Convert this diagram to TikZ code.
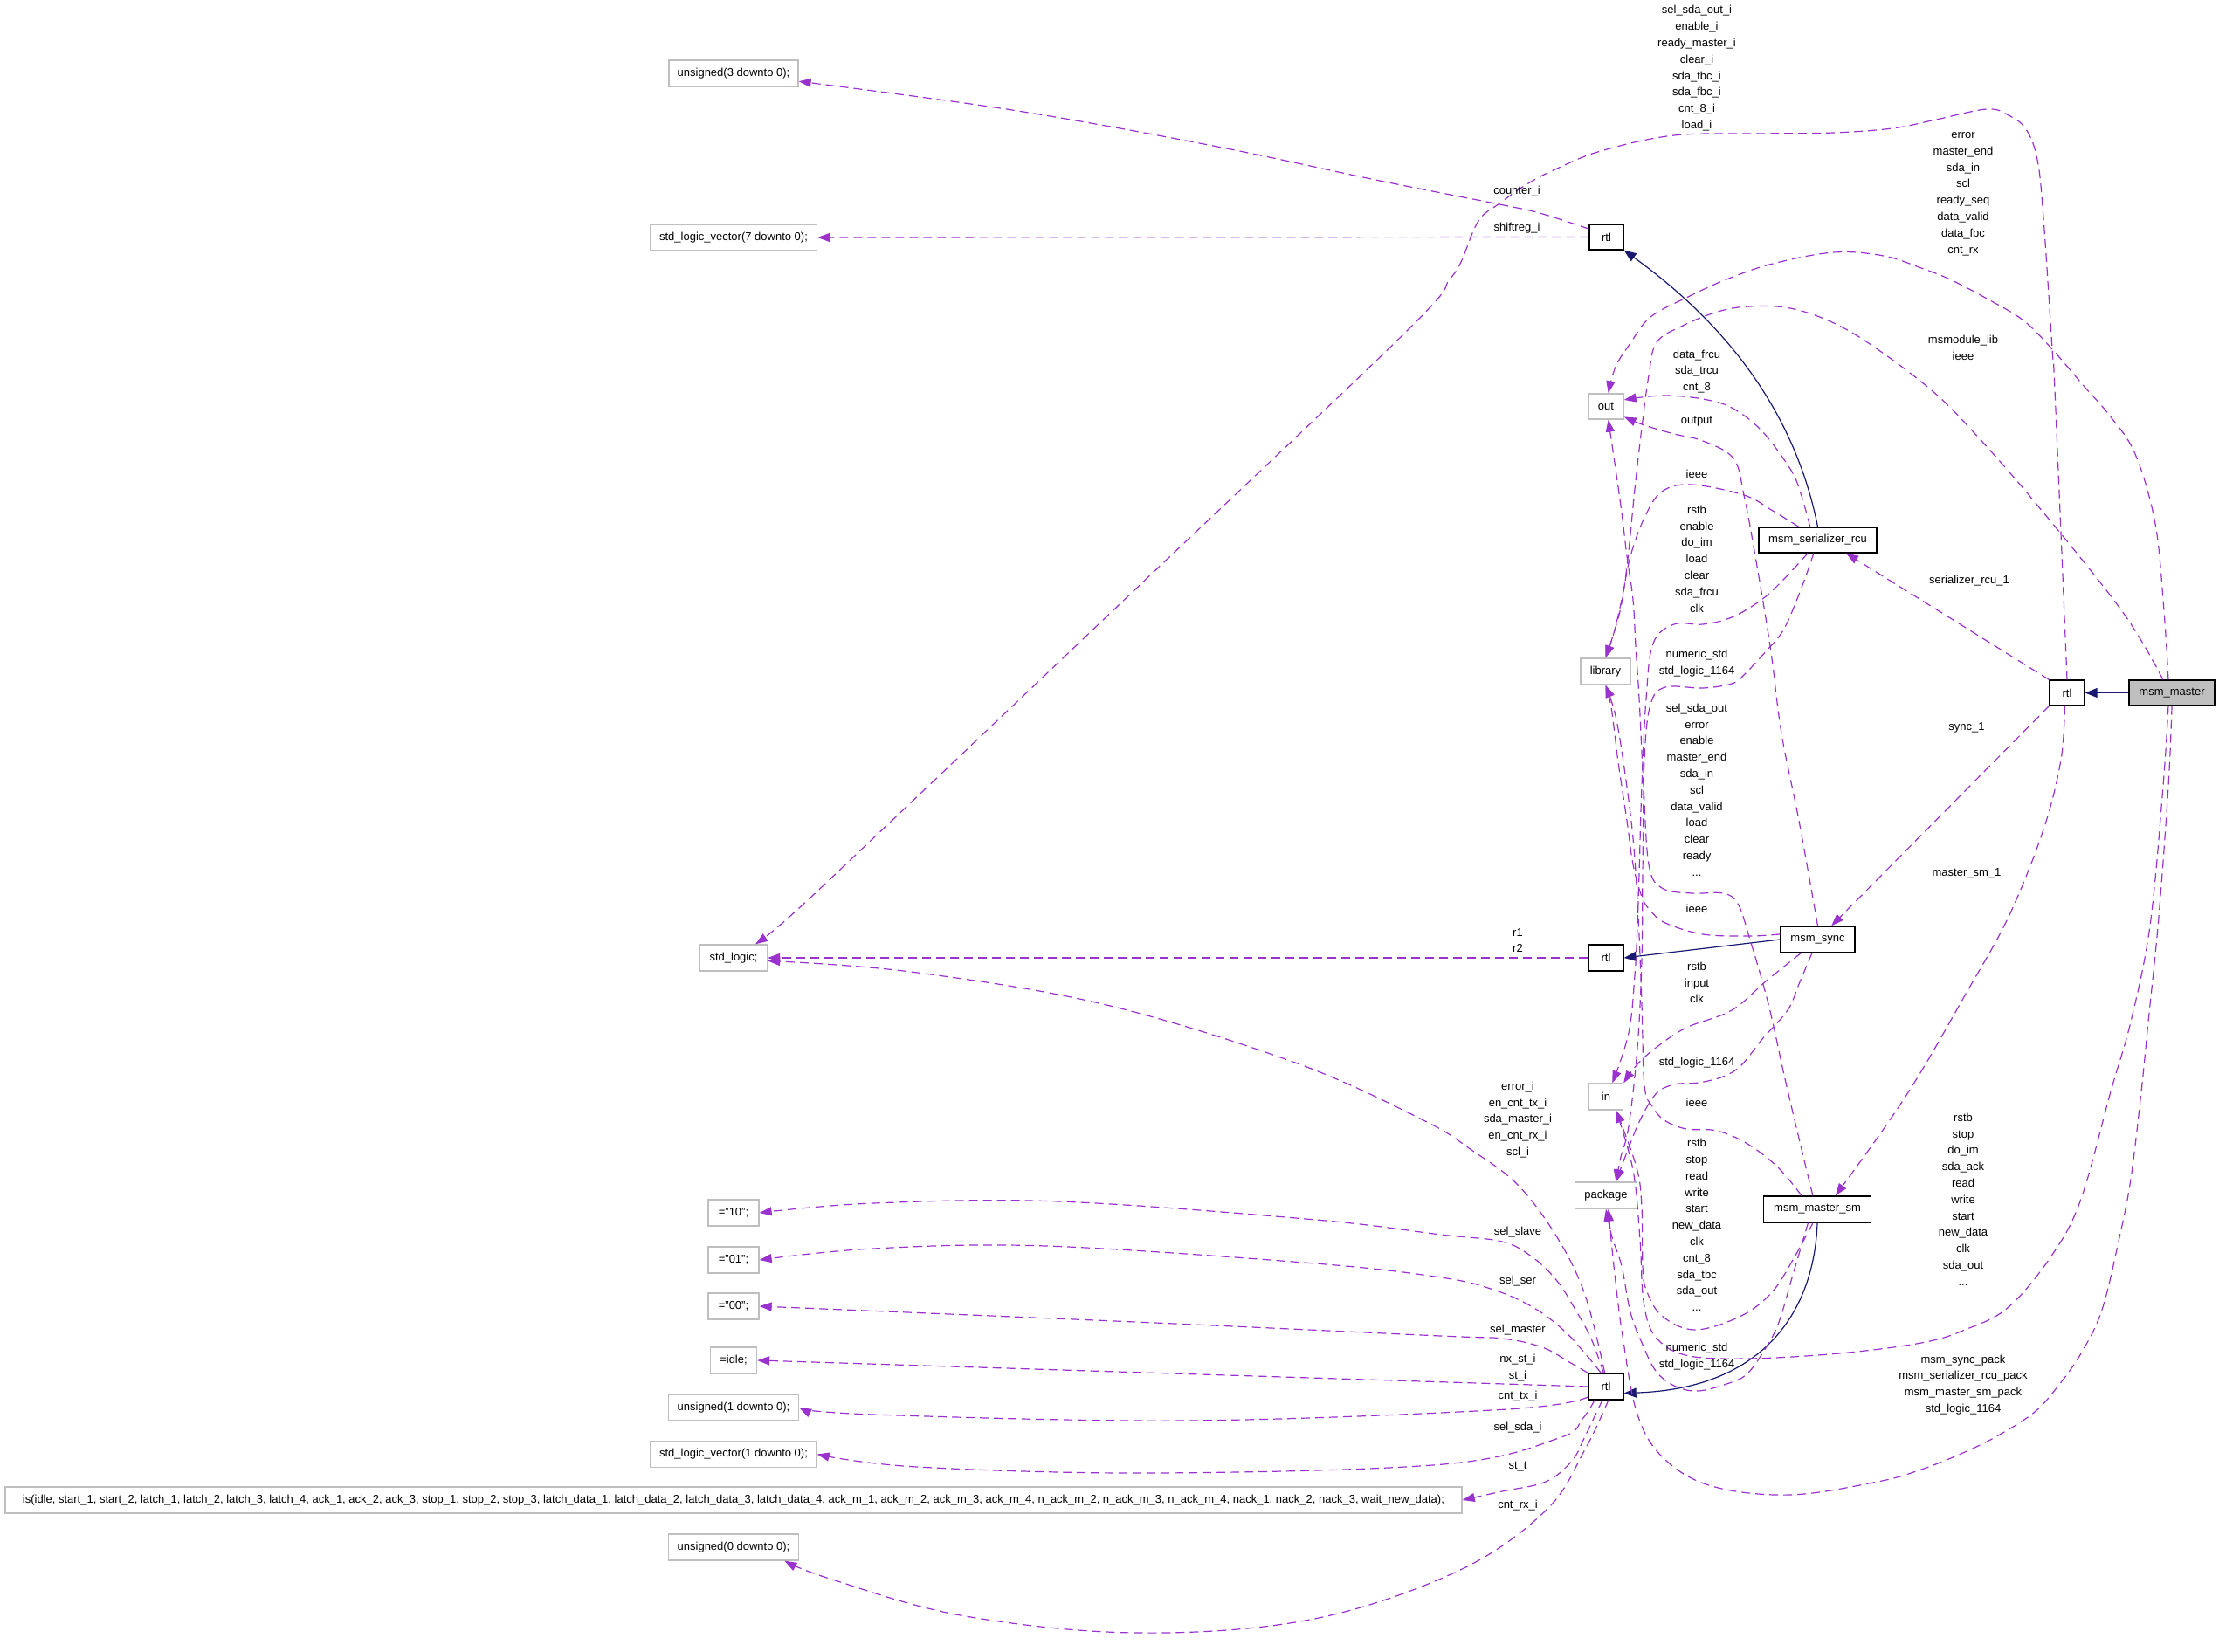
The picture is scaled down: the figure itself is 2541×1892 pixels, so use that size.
\documentclass[tikz,border=0pt]{standalone}
\usepackage{fontspec}
\setmainfont{Liberation Sans}
\usepackage{xcolor}
\usepackage{tikz}
\usetikzlibrary{arrows.meta}

\definecolor{edgepurple}{HTML}{9A32CD}
\definecolor{archblue}{HTML}{191970}
\definecolor{boxgray}{HTML}{BFBFBF}

\tikzset{
  ent/.style={draw=black, line width=1.3pt, fill=white, minimum height=29pt, inner xsep=2pt, inner ysep=0pt},
  ext/.style={draw=boxgray, line width=1.3pt, fill=white, minimum height=30pt, inner xsep=2pt, inner ysep=0pt},
  topent/.style={ent, fill=boxgray},
  lbl/.style={align=center, inner sep=0pt},
  dep/.style={draw=edgepurple, line width=1.2pt, dash pattern=on 10pt off 6pt, -{Triangle[length=14pt,width=10pt]}},
  arch/.style={draw=archblue, line width=1.2pt, -{Triangle[length=14pt,width=11pt]}},
}

\begin{document}
\begin{tikzpicture}[x=1pt,y=-1pt,font=\fontsize{13}{18.8}\selectfont]
\useasboundingbox (0,0) rectangle (2541,1892);

% entities and architectures
\node[topent, minimum width=98pt] (mm) at (2487,793.5) {msm\_master};
\node[ent, minimum width=40pt] (rtlmm) at (2367,793.5) {rtl};
\node[ent, minimum width=135pt] (ser) at (2081.5,618.5) {msm\_serializer\_rcu};
\node[ent, minimum width=85pt, minimum height=30pt] (sync) at (2081.5,1076) {msm\_sync};
\node[ent, minimum width=123pt, minimum height=30pt] (sm) at (2081,1385) {msm\_master\_sm};
\node[ent, minimum width=39pt] (rtlser) at (1839.5,271.5) {rtl};
\node[ent, minimum width=40pt, minimum height=30pt] (rtlsync) at (1839,1097) {rtl};
\node[ent, minimum width=40pt, minimum height=30pt] (rtlsm) at (1839,1588) {rtl};

% keywords
\node[ext, minimum width=40pt, minimum height=29pt] (outport) at (1839,465.5) {out};
\node[ext, minimum width=57pt] (lib) at (1838.5,769) {library};
\node[ext, minimum width=39pt] (inport) at (1839,1256) {in};
\node[ext, minimum width=71pt] (pkg) at (1839,1369) {package};

% types
\node[ext, minimum width=148pt] (u3) at (840,84) {unsigned(3 downto 0);};
\node[ext, minimum width=191pt] (slv7) at (840,272) {std\_logic\_vector(7 downto 0);};
\node[ext, minimum width=77pt] (stdl) at (840,1097) {std\_logic;};
\node[ext, minimum width=58pt] (c10) at (840,1389) {="10";};
\node[ext, minimum width=58pt] (c01) at (840,1443) {="01";};
\node[ext, minimum width=58pt] (c00) at (840,1496) {="00";};
\node[ext, minimum width=53pt] (cidle) at (840,1558) {=idle;};
\node[ext, minimum width=149pt] (u1) at (840,1612) {unsigned(1 downto 0);};
\node[ext, minimum width=190pt] (slv1) at (840,1665.5) {std\_logic\_vector(1 downto 0);};
\node[ext, minimum width=1668pt] (stenum) at (840,1718) {is(idle, start\_1, start\_2, latch\_1, latch\_2, latch\_3, latch\_4, ack\_1, ack\_2, ack\_3, stop\_1, stop\_2, stop\_3, latch\_data\_1, latch\_data\_2, latch\_data\_3, latch\_data\_4, ack\_m\_1, ack\_m\_2, ack\_m\_3, ack\_m\_4, n\_ack\_m\_2, n\_ack\_m\_3, n\_ack\_m\_4, nack\_1, nack\_2, nack\_3, wait\_new\_data);};
\node[ext, minimum width=149pt] (u0) at (840,1772) {unsigned(0 downto 0);};

% architecture links
\draw[arch] (mm.west) -- (rtlmm.east);
\draw[arch] (ser.north) .. controls (2055,470) and (1975,370) .. (rtlser.south east);
\draw[arch] (sync.west) -- (rtlsync.east);
\draw[arch] (sm.south) .. controls (2078,1490) and (2030,1590) .. (rtlsm.-20);

% instances
\draw[dep] (rtlmm.north west) -- (ser.-25);
\draw[dep] (rtlmm.south west) -- (sync.45);
\draw[dep] plot[smooth, tension=0.6] coordinates {(rtlmm.-100) (2360,870) (2340,950) (2300,1050) (2250,1140) (2200,1227) (2159,1290) (sm.37)};

% msm_master
\draw[dep] plot[smooth, tension=0.6] coordinates {(rtlmm.north) (2353,447) (2350,400) (2340,250) (2333,183) (2320,148) (2300,132) (2275,125) (2217,137) (2167,147) (2100,152) (2017,153) (1917,155) (1833,173) (1783,193) (1750,210) (1717,233) (1693,253) (1673,300) (1660,320) (1610,380) (1300,675) (1000,960) (904,1050) (stdl.32)};
\draw[dep] plot[smooth, tension=0.6] coordinates {(mm.105) (2478,700) (2468,600) (2445,520) (2415,475) (2387,443) (2350,400) (2317,367) (2277,343) (2233,320) (2200,307) (2157,293) (2100,289) (2030,302) (1977,320) (1933,340) (1890,363) (1867,393) (1850,420) (outport.80)};
\draw[dep] plot[smooth, tension=0.6] coordinates {(mm.124) (2430,700) (2330,575) (2260,495) (2213,448) (2150,400) (2100,370) (2050,353) (2003,351) (1967,357) (1927,373) (1897,392) (1888,430) (1880,490) (1872,560) (1864,640) (1855,700) (lib.north)};
\draw[dep] plot[smooth, tension=0.6] coordinates {(mm.-105) (2477,900) (2462,1060) (2440,1170) (2417,1250) (2383,1373) (2350,1437) (2300,1497) (2250,1523) (2200,1538) (2106,1550) (2001,1556) (1930,1552) (1895,1530) (1882,1490) (1878,1420) (1870,1340) (inport.-54)};
\draw[dep] plot[smooth, tension=0.6] coordinates {(mm.-90) (2483,900) (2472,1050) (2460,1170) (2452,1250) (2440,1350) (2427,1417) (2407,1500) (2383,1550) (2357,1587) (2330,1617) (2290,1643) (2250,1663) (2200,1683) (2150,1697) (2050,1712) (1960,1702) (1905,1670) (1875,1620) (1858,1530) (1848,1450) (pkg.-80)};

% msm_serializer_rcu
\draw[dep] plot[smooth, tension=0.6] coordinates {(ser.120) (2062,565) (2050,537) (2017,493) (1983,467) (1950,457) (1910,453) (1880,455) (outport.20)};
\draw[dep] plot[smooth, tension=0.6] coordinates {(ser.145) (2030,585) (1997,567) (1937,555) (1903,563) (1883,593) (1867,637) (1857,687) (1848,725) (lib.north)};
\draw[dep] plot[smooth, tension=0.6] coordinates {(ser.-127) (2043,663) (2017,687) (1983,707) (1950,715) (1917,715) (1893,737) (1885,800) (1880,900) (1877,1000) (1875,1060) (1872,1117) (1865,1183) (inport.65)};
\draw[dep] plot[smooth, tension=0.6] coordinates {(ser.-107) (2063,673) (2043,720) (2023,745) (1997,773) (1983,783) (1950,788) (1907,787) (1890,807) (1883,870) (1881,1000) (1880,1100) (1875,1200) (1865,1290) (1856,1325) (pkg.54)};

% msm_sync
\draw[dep] plot[smooth, tension=0.6] coordinates {(sync.north) (2060,940) (2040,840) (2027,740) (2010,637) (1997,567) (1985,525) (1950,505) (1917,497) (1883,487) (outport.-30)};
\draw[dep] plot[smooth, tension=0.6] coordinates {(sync.172) (2003,1072) (1950,1070) (1907,1057) (1890,1043) (1880,1027) (1870,990) (1863,940) (1853,873) (1845,810) (lib.south)};
\draw[dep] plot[smooth, tension=0.6] coordinates {(sync.-141) (2023,1123) (1983,1157) (1931,1177) (1896,1200) (1874,1220) (inport.north east)};
\draw[dep] plot[smooth, tension=0.6] coordinates {(sync.-113) (2060,1127) (2047,1157) (2018,1190) (1994,1220) (1973,1233) (1945,1240) (1917,1242) (1896,1253) (1878,1283) (1864,1317) (pkg.54)};

% msm_master_sm
\draw[dep] plot[smooth, tension=0.6] coordinates {(sm.108) (2067,1333) (2045,1240) (2025,1150) (2003,1073) (1990,1035) (1973,1023) (1937,1023) (1903,1017) (1888,990) (1882,900) (1877,800) (1873,740) (1870,687) (1863,637) (1857,587) (1850,537) (outport.-80)};
\draw[dep] plot[smooth, tension=0.6] coordinates {(sm.139) (2036,1337) (2001,1310) (1966,1295) (1931,1293) (1906,1283) (1892,1267) (1883,1243) (1880,1150) (1876,1050) (1870,960) (1860,880) (1850,820) (lib.south)};
\draw[dep] plot[smooth, tension=0.6] coordinates {(sm.-108) (2053,1443) (2029,1480) (1994,1507) (1941,1523) (1903,1507) (1885,1477) (1881,1450) (1880,1383) (1874,1337) (inport.-54)};
\draw[dep] plot[smooth, tension=0.6] coordinates {(sm.-124) (2053,1460) (2036,1517) (2018,1550) (2001,1573) (1983,1583) (1945,1593) (1917,1587) (1896,1570) (1881,1540) (1867,1503) (1857,1450) (1846,1417) (pkg.south)};

% rtl of msm_serializer_rcu
\draw[dep] plot[smooth, tension=0.6] coordinates {(rtlser.155) (1763,244) (1717,234) (1580,207) (1389,167) (1159,126) (u3.-7)};
\draw[dep] (rtlser.west) -- (slv7.east);

% rtl of msm_sync
\draw[dep] (rtlsync.west) -- (stdl.east);

% rtl of msm_master_sm
\draw[dep] plot[smooth, tension=0.6] coordinates {(rtlsm.95) (1815,1483) (1783,1417) (1738,1357) (1685,1317) (1630,1283) (1483,1217) (1263,1150) (1043,1113) (stdl.-5)};
\draw[dep] plot[smooth, tension=0.6] coordinates {(rtlsm.100) (1822,1533) (1804,1500) (1783,1467) (1755,1440) (1720,1422) (1650,1414) (1507,1397) (1213,1376) (1000,1378) (c10.east)};
\draw[dep] plot[smooth, tension=0.6] coordinates {(rtlsm.110) (1815,1550) (1790,1523) (1755,1497) (1710,1477) (1650,1463) (1506,1447) (1198,1427) (1000,1430) (c01.east)};
\draw[dep] plot[smooth, tension=0.6] coordinates {(rtlsm.north west) (1797,1560) (1766,1543) (1720,1533) (1650,1530) (1300,1514) (c00.east)};
\draw[dep] (rtlsm.west) -- (cidle.east);
\draw[dep] plot[smooth, tension=0.6] coordinates {(rtlsm.-150) (1726,1614) (1360,1627) (1000,1620) (u1.east)};
\draw[dep] plot[smooth, tension=0.6] coordinates {(rtlsm.-130) (1812,1625) (1785,1647) (1653,1677) (1323,1687) (1050,1680) (slv1.east)};
\draw[dep] plot[smooth, tension=0.6] coordinates {(rtlsm.-105) (1815,1645) (1800,1673) (1770,1697) (1720,1708) (stenum.0.6)};
\draw[dep] plot[smooth, tension=0.6] coordinates {(rtlsm.-80) (1815,1660) (1770,1730) (1668,1800) (1500,1855) (1300,1870) (1100,1850) (950,1808) (u0.-15.5)};

% edge labels
\node[lbl] (lsel) at (1943,78.3) {sel\_sda\_out\_i\\enable\_i\\ready\_master\_i\\clear\_i\\sda\_tbc\_i\\sda\_fbc\_i\\cnt\_8\_i\\load\_i};
\node[lbl] (lerr) at (2248,222) {error\\master\_end\\sda\_in\\scl\\ready\_seq\\data\_valid\\data\_fbc\\cnt\_rx};
\node[lbl] (lcount) at (1737,219) {counter\_i};
\node[lbl] (lshift) at (1737,261) {shiftreg\_i};
\node[lbl] (lmmlib) at (2248,398) {msmodule\_lib\\ieee};
\node[lbl] (lserout) at (1943,425.5) {data\_frcu\\sda\_trcu\\cnt\_8};
\node[lbl] (lsyncout) at (1943,483) {output};
\node[lbl] (lserlib) at (1943,543) {ieee};
\node[lbl] (lserin) at (1943,640) {rstb\\enable\\do\_im\\load\\clear\\sda\_frcu\\clk};
\node[lbl] (lserpkg) at (1943,760) {numeric\_std\\std\_logic\_1164};
\node[lbl] (lsmout) at (1943,904.5) {sel\_sda\_out\\error\\enable\\master\_end\\sda\_in\\scl\\data\_valid\\load\\clear\\ready\\...};
\node[lbl] (lsynclib) at (1943,1041) {ieee};
\node[lbl] (lsyncin) at (1943,1125.5) {rstb\\input\\clk};
\node[lbl] (lsyncpkg) at (1943,1217) {std\_logic\_1164};
\node[lbl] (lsmlib) at (1943,1263) {ieee};
\node[lbl] (lsmin) at (1943,1403) {rstb\\stop\\read\\write\\start\\new\_data\\clk\\cnt\_8\\sda\_tbc\\sda\_out\\...};
\node[lbl] (lsmpkg) at (1943,1553.5) {numeric\_std\\std\_logic\_1164};
\node[lbl] (lser1) at (2255,665) {serializer\_rcu\_1};
\node[lbl] (lsync1) at (2252,833) {sync\_1};
\node[lbl] (lsm1) at (2252,1000) {master\_sm\_1};
\node[lbl] (lmmin) at (2248,1373.5) {rstb\\stop\\do\_im\\sda\_ack\\read\\write\\start\\new\_data\\clk\\sda\_out\\...};
\node[lbl] (lmmpkg) at (2248,1586) {msm\_sync\_pack\\msm\_serializer\_rcu\_pack\\msm\_master\_sm\_pack\\std\_logic\_1164};
\node[lbl] (lr) at (1738,1077) {r1\\r2};
\node[lbl] (lsmstdl) at (1738,1282.5) {error\_i\\en\_cnt\_tx\_i\\sda\_master\_i\\en\_cnt\_rx\_i\\scl\_i};
\node[lbl] (lslave) at (1738,1411) {sel\_slave};
\node[lbl] (lsser) at (1738,1467) {sel\_ser};
\node[lbl] (lsmaster) at (1738,1523) {sel\_master};
\node[lbl] (lst) at (1738,1566.5) {nx\_st\_i\\st\_i};
\node[lbl] (lcnttx) at (1738,1599) {cnt\_tx\_i};
\node[lbl] (lsda) at (1738,1635) {sel\_sda\_i};
\node[lbl] (lstt) at (1738,1680) {st\_t};
\node[lbl] (lcntrx) at (1738,1724) {cnt\_rx\_i};
\end{tikzpicture}
\end{document}
